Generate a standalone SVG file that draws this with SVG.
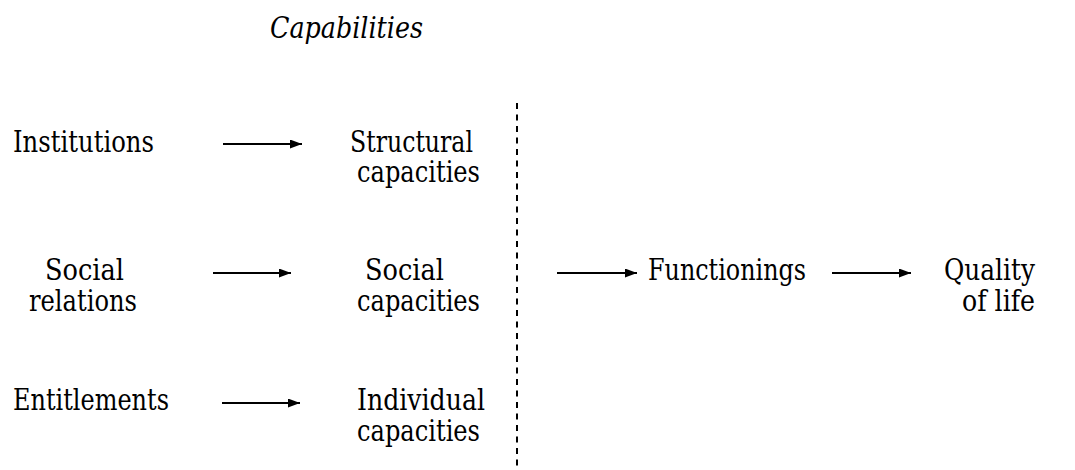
<svg xmlns="http://www.w3.org/2000/svg" width="1075" height="470" viewBox="0 0 1075 470">
<defs>
<style>
.t{font-size:29px;fill:#000}
.it{font-style:italic}
.c{stroke:#000;stroke-width:2;fill:none}
.d{stroke:#000;stroke-width:2;stroke-dasharray:6 5.5;fill:none}
</style>
<marker id="ah" viewBox="0 0 12 9" refX="12" refY="4.5" markerWidth="12" markerHeight="9" markerUnits="userSpaceOnUse" orient="auto">
<path d="M0,0 L12,4.5 L0,9 Z" fill="#000"/>
</marker>
</defs>
<rect width="1075" height="470" fill="#fff"/>
<g font-family="'DejaVu Serif', serif" class="t">
<g id="capabilities"><text class="t it" x="270" y="38" textLength="153" lengthAdjust="spacingAndGlyphs">Capabilities</text></g>
<g id="institutions"><text class="t" x="13" y="152" textLength="141" lengthAdjust="spacingAndGlyphs">Institutions</text></g>
<g id="structural"><text class="t" x="350" y="152" textLength="123" lengthAdjust="spacingAndGlyphs">Structural</text><text class="t" x="357" y="182" textLength="123" lengthAdjust="spacingAndGlyphs">capacities</text></g>
<g id="social-relations"><text class="t" x="45" y="280" textLength="79" lengthAdjust="spacingAndGlyphs">Social</text><text class="t" x="29" y="311" textLength="108" lengthAdjust="spacingAndGlyphs">relations</text></g>
<g id="social-capacities"><text class="t" x="365" y="280" textLength="79" lengthAdjust="spacingAndGlyphs">Social</text><text class="t" x="357" y="311" textLength="123" lengthAdjust="spacingAndGlyphs">capacities</text></g>
<g id="entitlements"><text class="t" x="13" y="410" textLength="156" lengthAdjust="spacingAndGlyphs">Entitlements</text></g>
<g id="individual"><text class="t" x="357" y="410" textLength="128" lengthAdjust="spacingAndGlyphs">Individual</text><text class="t" x="357" y="441" textLength="123" lengthAdjust="spacingAndGlyphs">capacities</text></g>
<g id="functionings"><text class="t" x="648" y="280" textLength="158" lengthAdjust="spacingAndGlyphs">Functionings</text></g>
<g id="quality"><text class="t" x="944" y="280" textLength="91" lengthAdjust="spacingAndGlyphs">Quality</text><text class="t" x="962" y="311" textLength="73" lengthAdjust="spacingAndGlyphs">of life</text></g>
</g>
<g id="connectors">
<line class="d" x1="517" y1="103" x2="517" y2="470"/>
<line class="c" x1="223" y1="144" x2="302" y2="144" marker-end="url(#ah)"/>
<line class="c" x1="213" y1="273" x2="291" y2="273" marker-end="url(#ah)"/>
<line class="c" x1="222" y1="403" x2="300" y2="403" marker-end="url(#ah)"/>
<line class="c" x1="557" y1="273" x2="637" y2="273" marker-end="url(#ah)"/>
<line class="c" x1="832" y1="273" x2="911" y2="273" marker-end="url(#ah)"/>
</g>
</svg>
